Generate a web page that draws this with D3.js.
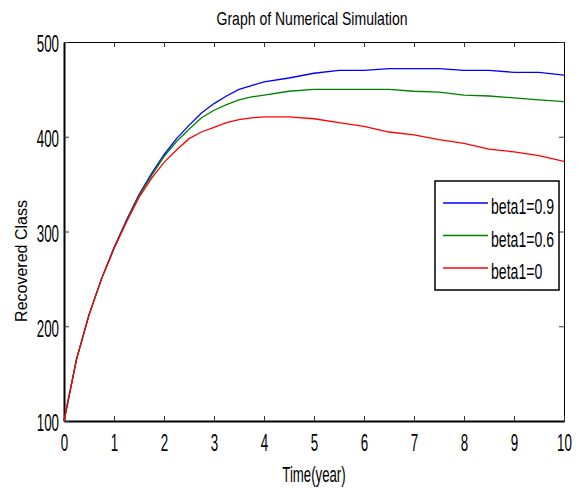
<!DOCTYPE html>
<html>
<head>
<meta charset="utf-8">
<script src="https://cdn.jsdelivr.net/npm/d3@7"></script>
<style>
  body { margin: 0; background: #fff; }
  text { font-family: "Liberation Sans", Arial, sans-serif; fill: #000; }
</style>
</head>
<body>
<script>
'use strict';

// time points (years)
const time = [0, 0.25, 0.5, 0.75, 1, 1.25, 1.5, 1.75, 2, 2.25, 2.5, 2.75, 3, 3.25, 3.5, 3.75,
  4, 4.5, 5, 5.5, 6, 6.5, 7, 7.5, 8, 8.5, 9, 9.5, 10];

// recovered class for each beta1
const beta09 = [100, 165, 212, 250, 283, 312, 339, 361, 381, 398, 412, 425, 435, 443, 450, 454,
  458, 462, 467, 470, 470, 472, 472, 472, 470, 470, 468, 468, 465];
const beta06 = [100, 165, 212, 250, 282, 311, 338, 359, 379, 395, 408, 420, 428, 434, 439, 442,
  444, 448, 450, 450, 450, 450, 448, 447, 444, 443, 441, 439, 437];
const beta00 = [100, 165, 212, 250, 282, 310, 336, 356, 373, 386, 398, 405, 410, 415, 418, 420,
  421, 421, 419, 415, 411, 405, 402, 397, 393, 387, 384, 380, 374];

const seriesNames = ["beta1=0.9", "beta1=0.6", "beta1=0"];
const seriesColors = ["#0000ff", "#008000", "#ff0000"];
const xTicks = [0, 1, 2, 3, 4, 5, 6, 7, 8, 9, 10];
const yTicks = [100, 200, 300, 400, 500];

const width = 577, height = 489;
const margin = { left: 64, right: 13, top: 42, bottom: 68 };

// the original uses a condensed font; squeeze Liberation Sans horizontally
const tickFont = 23, tickSqueeze = 0.58;

const svg = d3.select('body').append('svg')
  .attr('width', width)
  .attr('height', height);

const x = d3.scaleLinear().domain([0, 10]).range([margin.left, width - margin.right]);
const y = d3.scaleLinear().domain([100, 500]).range([height - margin.bottom, margin.top]);

// place a horizontally squeezed text
function squeezedText(px, py, str, size, sx, anchor) {
  return svg.append('g')
    .attr('transform', `translate(${px},${py})`)
    .append('text')
      .attr('transform', `scale(${sx},1)`)
      .attr('text-anchor', anchor || 'middle')
      .attr('font-size', size)
      .text(str);
}

// title
squeezedText(312, 25, 'Graph of Numerical Simulation', 18, 0.78);

// box ticks (top and right, inward, no labels)
svg.append('g')
  .attr('transform', `translate(0,${margin.top})`)
  .call(d3.axisTop(x).tickValues(xTicks).tickSize(-5).tickFormat(''))
  .call(g => g.select('.domain').attr('stroke', '#000').attr('stroke-width', 1))
  .call(g => g.selectAll('.tick line').attr('stroke', '#333'));

svg.append('g')
  .attr('transform', `translate(${width - margin.right},0)`)
  .call(d3.axisRight(y).tickValues(yTicks).tickSize(-5).tickFormat(''))
  .call(g => g.select('.domain').attr('stroke', '#000').attr('stroke-width', 1))
  .call(g => g.selectAll('.tick line').attr('stroke', '#333'));

// bottom axis
svg.append('g')
  .attr('transform', `translate(0,${height - margin.bottom})`)
  .call(d3.axisBottom(x).tickValues(xTicks).tickSize(-5).tickPadding(14).tickSizeOuter(0))
  .call(g => g.select('.domain').attr('stroke', '#000').attr('stroke-width', 2))
  .call(g => g.selectAll('.tick line').attr('stroke', '#333'))
  .call(g => g.selectAll('.tick text')
    .attr('font-size', tickFont)
    .attr('font-family', '"Liberation Sans", Arial, sans-serif')
    .attr('fill', '#000')
    .attr('transform', `scale(${tickSqueeze},1)`));

// left axis
svg.append('g')
  .attr('transform', `translate(${margin.left},0)`)
  .call(d3.axisLeft(y).tickValues(yTicks).tickSize(-5).tickPadding(5).tickSizeOuter(0))
  .call(g => g.select('.domain').attr('stroke', '#000').attr('stroke-width', 2))
  .call(g => g.selectAll('.tick line').attr('stroke', '#333'))
  .call(g => g.selectAll('.tick text')
    .attr('font-size', tickFont)
    .attr('font-family', '"Liberation Sans", Arial, sans-serif')
    .attr('fill', '#000')
    .attr('x', -5 / tickSqueeze)
    .attr('y', 2.5)
    .attr('transform', `scale(${tickSqueeze},1)`));

// axis labels
squeezedText(314, 482, 'Time(year)', 22, 0.6);

svg.append('text')
  .attr('transform', 'translate(27,261) rotate(-90)')
  .attr('text-anchor', 'middle')
  .attr('font-size', 16)
  .text('Recovered Class');

// curves
const allSeries = [beta09, beta06, beta00];
const line = d3.line()
  .x((d, i) => x(time[i]))
  .y(d => y(d));

svg.selectAll('.curve')
  .data(allSeries)
  .enter()
  .append('path')
    .attr('class', 'curve')
    .attr('d', line)
    .attr('fill', 'none')
    .attr('stroke', (d, i) => seriesColors[i])
    .attr('stroke-width', 1.3);

// legend
const legend = svg.append('g').attr('transform', 'translate(435,181)');
legend.append('rect')
  .attr('width', 124).attr('height', 109)
  .attr('fill', '#fff')
  .attr('stroke', '#000')
  .attr('stroke-width', 1.5);

const rows = legend.selectAll('.row')
  .data(seriesNames)
  .enter()
  .append('g')
    .attr('class', 'row')
    .attr('transform', (d, i) => `translate(0,${22 + i * 32.5})`);

rows.append('line')
  .attr('x1', 8).attr('x2', 53)
  .attr('stroke', (d, i) => seriesColors[i])
  .attr('stroke-width', 1.3);

rows.append('g')
  .attr('transform', 'translate(56,11)')
  .append('text')
    .attr('transform', 'scale(0.64,1)')
    .attr('font-size', 22)
    .text(d => d);
</script>
</body>
</html>
